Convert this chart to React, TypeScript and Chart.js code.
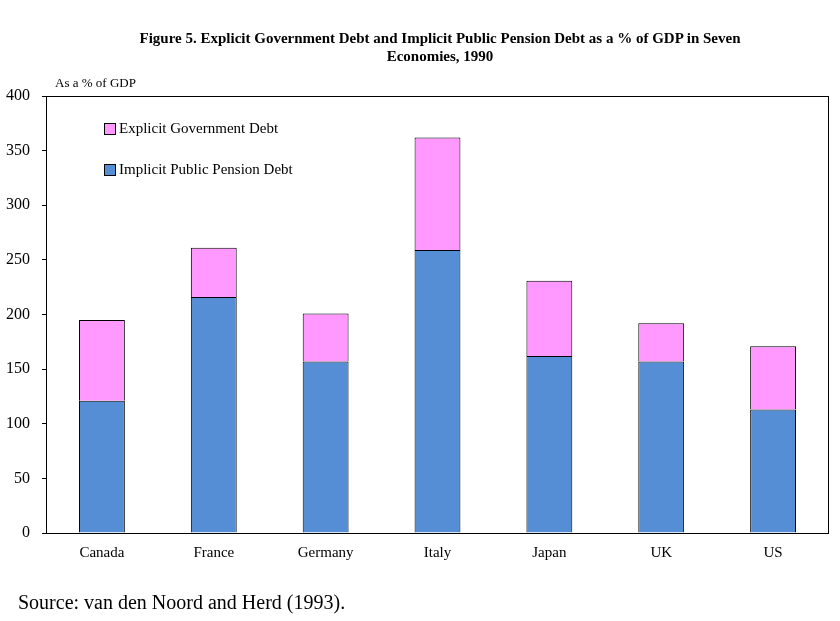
import React, { useEffect, useRef } from "react";
import { Chart, registerables } from "chart.js";
Chart.register(...registerables);

const categories = ["Canada", "France", "Germany", "Italy", "Japan", "UK", "US"];
const implicitDebt = [121, 216, 157, 259, 162, 157, 113];
const explicitDebt = [74, 45, 44, 103, 69, 35, 58];
const yTicks = [0, 50, 100, 150, 200, 250, 300, 350, 400];

const frame = {
  id: "frame",
  afterDraw(c: any) {
    const a = c.chartArea, ctx = c.ctx;
    ctx.save();
    ctx.strokeStyle = "#000";
    ctx.lineWidth = 1;
    ctx.strokeRect(a.left + 0.5, a.top + 0.5, a.right - a.left - 1, a.bottom - a.top);
    ctx.restore();
  },
};

export default function App() {
  const ref = useRef<HTMLCanvasElement>(null);
  useEffect(() => {
    const ch = new Chart(ref.current!, {
      type: "bar",
      data: {
        labels: categories,
        datasets: [
          { label: "Implicit Public Pension Debt", data: implicitDebt, backgroundColor: "#558ed5", borderColor: "#000", borderWidth: 1 },
          { label: "Explicit Government Debt", data: explicitDebt, backgroundColor: "#ff99ff", borderColor: "#000", borderWidth: 1 },
        ],
      },
      options: {
        animation: false,
        responsive: false,
        layout: { padding: { left: 0, right: 11, top: 96, bottom: 48 } },
        plugins: { legend: { display: false }, tooltip: { enabled: false } },
        datasets: { bar: { barPercentage: 0.41, categoryPercentage: 1 } },
        scales: {
          x: {
            stacked: true,
            grid: { display: false },
            border: { display: false },
            ticks: { color: "#000", font: { family: "Liberation Serif", size: 15 } },
            afterFit: (s: any) => { s.height = 40; },
          },
          y: {
            stacked: true,
            min: 0,
            max: 400,
            afterBuildTicks: (s: any) => { s.ticks = yTicks.map((v) => ({ value: v })); },
            grid: { drawOnChartArea: false, drawTicks: true, tickLength: 4, color: "#000" },
            border: { display: false },
            ticks: { color: "#000", padding: 12, font: { family: "Liberation Serif", size: 16 } },
            afterFit: (s: any) => { s.width = 46; },
          },
        },
      },
      plugins: [frame],
    });
    return () => ch.destroy();
  }, []);
  const serif = "'Liberation Serif', serif";
  return (
    <div style={{ position: "absolute", left: 0, top: 0, width: 840, height: 621, fontFamily: serif, color: "#000" }}>
      <canvas ref={ref} width={840} height={621} style={{ position: "absolute", left: 0, top: 0 }} />
      <div style={{ position: "absolute", left: 100, width: 680, top: 29, textAlign: "center", fontWeight: "bold", fontSize: 15, lineHeight: "18px" }}>
        Figure 5. Explicit Government Debt and Implicit Public Pension Debt as a % of GDP in Seven<br />Economies, 1990
      </div>
      <div style={{ position: "absolute", left: 55, top: 75, fontSize: 13 }}>As a % of GDP</div>
      <div style={{ position: "absolute", left: 104, top: 120, fontSize: 15, display: "flex", alignItems: "center" }}>
        <span style={{ width: 10, height: 10, background: "#ff99ff", border: "1px solid #000", marginRight: 3 }} />Explicit Government Debt
      </div>
      <div style={{ position: "absolute", left: 104, top: 161, fontSize: 15, display: "flex", alignItems: "center" }}>
        <span style={{ width: 10, height: 10, background: "#558ed5", border: "1px solid #000", marginRight: 3 }} />Implicit Public Pension Debt
      </div>
      <div style={{ position: "absolute", left: 18, top: 591, fontSize: 20 }}>Source: van den Noord and Herd (1993).</div>
    </div>
  );
}
